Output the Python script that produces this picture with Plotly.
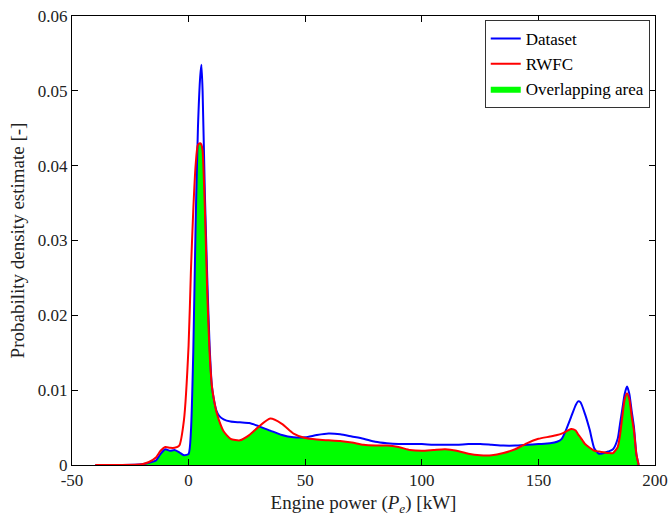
import numpy as np
import plotly.graph_objects as go

# Shared engine-power grid [kW]
power_kw = [-40, -30, -20, -17, -14, -12, -10, -8, -6, -4, -2, 0, 1, 2, 3, 4, 5, 5.5, 6, 7, 8, 9, 10,
            11, 12, 13, 15, 18, 22, 26, 30, 35, 40, 45, 50, 55, 60, 65, 70, 75, 80, 85, 90, 95,
            100, 105, 110, 115, 120, 125, 130, 135, 140, 145, 150, 155, 158, 160, 162, 164, 166,
            167, 168, 170, 172, 174, 176, 178, 180, 182, 184, 185, 186, 187, 188, 189, 190, 191,
            192, 193]

dataset_pdf = [0, 0, 0.0001, 0.0003, 0.0006, 0.0015, 0.0021, 0.0019, 0.0020, 0.0017, 0.0013, 0.0015,
               0.0045, 0.015, 0.032, 0.045, 0.052, 0.0535, 0.050, 0.036, 0.025, 0.016, 0.0105,
               0.0085, 0.0072, 0.0066, 0.0061, 0.0058, 0.0057, 0.0056, 0.0052, 0.0046, 0.0040,
               0.0037, 0.0037, 0.0040, 0.0042, 0.0041, 0.0038, 0.0035, 0.0031, 0.0029, 0.0028,
               0.0028, 0.0028, 0.0027, 0.0027, 0.0027, 0.0028, 0.0028, 0.0027, 0.0026, 0.0026,
               0.0027, 0.0028, 0.0029, 0.0031, 0.0035, 0.0048, 0.0064, 0.0080, 0.0085, 0.0084,
               0.0068, 0.0047, 0.0022, 0.0015, 0.0016, 0.0018, 0.0021, 0.0035, 0.0055, 0.0075,
               0.0095, 0.0105, 0.0095, 0.0072, 0.0050, 0.0015, 0]

rwfc_pdf = [0, 0, 0.0001, 0.0004, 0.0010, 0.0019, 0.0024, 0.0023, 0.0023, 0.0026, 0.0060, 0.016,
            0.026, 0.034, 0.040, 0.0428, 0.043, 0.0428, 0.042, 0.034, 0.023, 0.015, 0.0105,
            0.0085, 0.0070, 0.0060, 0.0045, 0.0035, 0.0033, 0.0040, 0.0051, 0.0062, 0.0055,
            0.0042, 0.0036, 0.0034, 0.0033, 0.0032, 0.0030, 0.0027, 0.0026, 0.0026, 0.0024,
            0.0020, 0.0019, 0.0020, 0.0021, 0.0019, 0.0015, 0.0013, 0.0013, 0.0016, 0.0021,
            0.0029, 0.0035, 0.0038, 0.0040, 0.0042, 0.0045, 0.0048, 0.0046, 0.0041, 0.0037,
            0.0028, 0.0023, 0.0019, 0.0018, 0.0017, 0.0016, 0.0016, 0.0024, 0.0040, 0.0065,
            0.0088, 0.0096, 0.0088, 0.0065, 0.0045, 0.0015, 0]

x_tick_vals = [-50, 0, 50, 100, 150, 200]
x_tick_text = ["-50", "0", "50", "100", "150", "200"]
y_tick_vals = [0, 0.01, 0.02, 0.03, 0.04, 0.05, 0.06]
y_tick_text = ["0", "0.01", "0.02", "0.03", "0.04", "0.05", "0.06"]

overlap = np.minimum(np.array(dataset_pdf), np.array(rwfc_pdf))

FONT = "Liberation Serif, DejaVu Serif, serif"

fig = go.Figure()
fig.add_trace(go.Scatter(x=power_kw, y=overlap, mode="lines", fill="tozeroy",
                         fillcolor="#00ff00", line=dict(color="rgba(0,0,0,0)", width=0, shape="spline", smoothing=0.6),
                         name="Overlapping area", legendrank=3))
fig.add_trace(go.Scatter(x=power_kw, y=dataset_pdf, mode="lines",
                         line=dict(color="#0000ff", width=2, shape="spline", smoothing=0.6),
                         name="Dataset", legendrank=1))
fig.add_trace(go.Scatter(x=power_kw, y=rwfc_pdf, mode="lines",
                         line=dict(color="#ff0000", width=2, shape="spline", smoothing=0.6),
                         name="RWFC", legendrank=2))

axis_common = dict(showline=True, linecolor="black", linewidth=1, mirror="ticks",
                   ticks="inside", ticklen=6, tickcolor="black", showgrid=False, zeroline=False,
                   automargin=False,
                   tickfont=dict(family=FONT, size=17, color="#222"))

fig.update_xaxes(range=[-50, 200], tickvals=x_tick_vals, ticktext=x_tick_text,
                 title=dict(text="Engine power (<i>P</i><sub><i>e</i></sub>) [kW]",
                            font=dict(family=FONT, size=19, color="#222"), standoff=6),
                 **axis_common)
fig.update_yaxes(range=[0, 0.06], tickvals=y_tick_vals, ticktext=y_tick_text,
                 title=dict(text="Probability density estimate [-]",
                            font=dict(family=FONT, size=19, color="#222"), standoff=8),
                 **axis_common)

fig.update_layout(
    width=668, height=519,
    margin=dict(l=72, r=13, t=16, b=54),
    plot_bgcolor="white", paper_bgcolor="white",
    legend=dict(x=0.991, y=0.991, xanchor="right", yanchor="top",
                bgcolor="white", bordercolor="#333", borderwidth=1,
                font=dict(family=FONT, size=17, color="black"),
                tracegroupgap=0, itemwidth=30),
    showlegend=True,
)

fig.write_html("out.html")
